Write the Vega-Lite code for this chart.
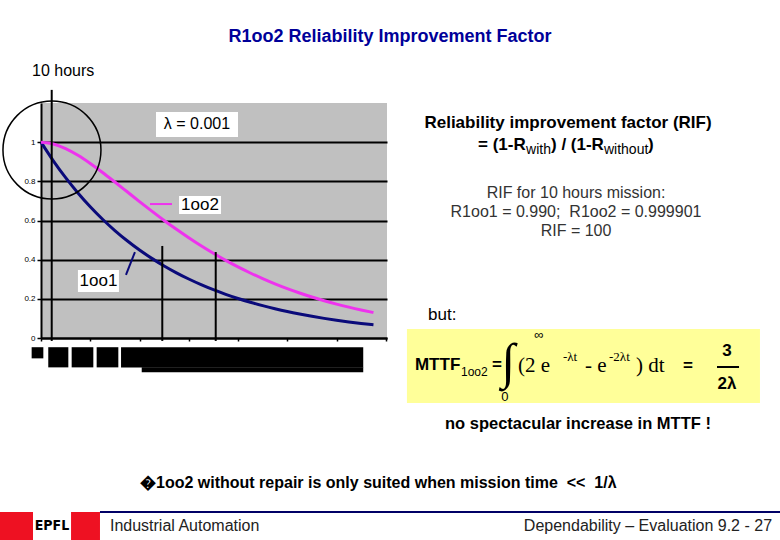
{
  "$schema": "https://vega.github.io/schema/vega-lite/v6.json",
  "width": 346,
  "height": 235,
  "autosize": "none",
  "padding": {"left": 41, "top": 103, "right": 393, "bottom": 202},
  "background": "white",
  "config": {"view": {"fill": "#c0c0c0", "stroke": null}, "font": "Liberation Sans"},
  "datasets": {
    "curves": [
      {"t": 0, "r1oo1": 1, "r1oo2": 1},
      {"t": 100, "r1oo1": 0.9048, "r1oo2": 0.9909},
      {"t": 200, "r1oo1": 0.8187, "r1oo2": 0.9671},
      {"t": 300, "r1oo1": 0.7408, "r1oo2": 0.9328},
      {"t": 400, "r1oo1": 0.6703, "r1oo2": 0.8913},
      {"t": 500, "r1oo1": 0.6065, "r1oo2": 0.8452},
      {"t": 600, "r1oo1": 0.5488, "r1oo2": 0.7964},
      {"t": 700, "r1oo1": 0.4966, "r1oo2": 0.7466},
      {"t": 800, "r1oo1": 0.4493, "r1oo2": 0.6967},
      {"t": 900, "r1oo1": 0.4066, "r1oo2": 0.6479},
      {"t": 1000, "r1oo1": 0.3679, "r1oo2": 0.6004},
      {"t": 1100, "r1oo1": 0.3329, "r1oo2": 0.555},
      {"t": 1200, "r1oo1": 0.3012, "r1oo2": 0.5117},
      {"t": 1300, "r1oo1": 0.2725, "r1oo2": 0.4707},
      {"t": 1400, "r1oo1": 0.2466, "r1oo2": 0.4324},
      {"t": 1500, "r1oo1": 0.2231, "r1oo2": 0.3964},
      {"t": 1600, "r1oo1": 0.2019, "r1oo2": 0.363},
      {"t": 1700, "r1oo1": 0.1827, "r1oo2": 0.332},
      {"t": 1800, "r1oo1": 0.1653, "r1oo2": 0.3033},
      {"t": 1900, "r1oo1": 0.1496, "r1oo2": 0.2768},
      {"t": 2000, "r1oo1": 0.1353, "r1oo2": 0.2523},
      {"t": 2100, "r1oo1": 0.1225, "r1oo2": 0.23},
      {"t": 2200, "r1oo1": 0.1108, "r1oo2": 0.2093},
      {"t": 2300, "r1oo1": 0.1003, "r1oo2": 0.1905},
      {"t": 2400, "r1oo1": 0.0907, "r1oo2": 0.1732},
      {"t": 2500, "r1oo1": 0.0821, "r1oo2": 0.1575},
      {"t": 2600, "r1oo1": 0.0743, "r1oo2": 0.1431},
      {"t": 2700, "r1oo1": 0.0672, "r1oo2": 0.1299}
    ],
    "markers": [
      {"t": 87, "top": 1.267, "bottom": -0.015},
      {"t": 985, "top": 0.47, "bottom": -0.015},
      {"t": 1419, "top": 0.439, "bottom": -0.015}
    ],
    "blocks": [
      {"from": -76, "to": 19, "low": -0.104, "high": -0.047},
      {"from": 59, "to": 222, "low": -0.15, "high": -0.047},
      {"from": 249, "to": 425, "low": -0.15, "high": -0.047},
      {"from": 452, "to": 628, "low": -0.15, "high": -0.047},
      {"from": 650, "to": 2617, "low": -0.15, "high": -0.047},
      {"from": 818, "to": 2617, "low": -0.175, "high": -0.149}
    ]
  },
  "layer": [
    {
      "data": {"name": "curves"},
      "mark": {"type": "line", "interpolate": "monotone", "strokeWidth": 3, "stroke": "#0a0a7a"},
      "encoding": {
        "x": {"field": "t", "type": "quantitative",
              "scale": {"domain": [0, 2810], "nice": false, "zero": false},
              "axis": {"values": [0,100,200,300,400,500,600,700,800,900,1000,1100,1200,1300,1400,1500,1600,1700,1800,1900,2000,2100,2200,2300,2400,2500,2600,2700,2800],
                       "labels": false, "title": null, "grid": false, "domainColor": "black", "domainWidth": 2,
                       "tickColor": "black", "tickSize": 3, "tickWidth": 1.5}},
        "y": {"field": "r1oo1", "type": "quantitative",
              "scale": {"domain": [0, 1.2], "nice": false, "zero": false},
              "axis": {"values": [0, 0.2, 0.4, 0.6, 0.8, 1], "format": "~g", "title": null, "grid": true,
                       "gridColor": "black", "gridWidth": 2, "gridOpacity": 1, "domainColor": "black", "domainWidth": 2,
                       "tickColor": "black", "tickSize": 4, "tickWidth": 1.5, "labelFontSize": 8, "labelColor": "black",
                       "labelPadding": 2, "labelFont": "Liberation Sans"}}
      }
    },
    {
      "data": {"name": "curves"},
      "mark": {"type": "line", "interpolate": "monotone", "strokeWidth": 3, "stroke": "#ee33ee"},
      "encoding": {
        "x": {"field": "t", "type": "quantitative"},
        "y": {"field": "r1oo2", "type": "quantitative"}
      }
    },
    {
      "data": {"name": "markers"},
      "mark": {"type": "rule", "stroke": "black", "strokeWidth": 2},
      "encoding": {
        "x": {"field": "t", "type": "quantitative"},
        "y": {"field": "top", "type": "quantitative"},
        "y2": {"field": "bottom"}
      }
    },
    {
      "data": {"values": [{"label": "circle"}]},
      "mark": {"type": "point", "shape": "circle", "size": 9604, "filled": false, "stroke": "black", "strokeWidth": 1.5, "opacity": 1},
      "encoding": {"x": {"datum": 89, "type": "quantitative"}, "y": {"datum": 0.96, "type": "quantitative"}}
    },
    {
      "data": {"values": [{"label": "λ box"}]},
      "mark": {"type": "rect", "fill": "white"},
      "encoding": {"x": {"datum": 934, "type": "quantitative"}, "x2": {"datum": 1600}, "y": {"datum": 1.154, "type": "quantitative"}, "y2": {"datum": 1.026}}
    },
    {
      "data": {"values": [{"label": "λ = 0.001"}]},
      "mark": {"type": "text", "align": "center", "baseline": "middle", "fontSize": 16, "fill": "black"},
      "encoding": {"x": {"datum": 1267, "type": "quantitative"}, "y": {"datum": 1.093, "type": "quantitative"}, "text": {"field": "label"}}
    },
    {
      "data": {"values": [{"label": "1oo2 box"}]},
      "mark": {"type": "rect", "fill": "white"},
      "encoding": {"x": {"datum": 1121, "type": "quantitative"}, "x2": {"datum": 1462}, "y": {"datum": 0.725, "type": "quantitative"}, "y2": {"datum": 0.633}}
    },
    {
      "data": {"values": [{"label": "1oo2"}]},
      "mark": {"type": "text", "align": "center", "baseline": "middle", "fontSize": 17, "fill": "black"},
      "encoding": {"x": {"datum": 1291, "type": "quantitative"}, "y": {"datum": 0.679, "type": "quantitative"}, "text": {"field": "label"}}
    },
    {
      "data": {"values": [{"label": "1oo2 key"}]},
      "mark": {"type": "rule", "stroke": "#ee33ee", "strokeWidth": 2},
      "encoding": {"x": {"datum": 885, "type": "quantitative"}, "x2": {"datum": 1064}, "y": {"datum": 0.684, "type": "quantitative"}}
    },
    {
      "data": {"values": [{"label": "1oo1 box"}]},
      "mark": {"type": "rect", "fill": "white"},
      "encoding": {"x": {"datum": 300, "type": "quantitative"}, "x2": {"datum": 633}, "y": {"datum": 0.347, "type": "quantitative"}, "y2": {"datum": 0.235}}
    },
    {
      "data": {"values": [{"label": "1oo1"}]},
      "mark": {"type": "text", "align": "center", "baseline": "middle", "fontSize": 17, "fill": "black"},
      "encoding": {"x": {"datum": 467, "type": "quantitative"}, "y": {"datum": 0.291, "type": "quantitative"}, "text": {"field": "label"}}
    },
    {
      "data": {"values": [{"label": "1oo1 pointer"}]},
      "mark": {"type": "rule", "stroke": "#0a0a7a", "strokeWidth": 2},
      "encoding": {"x": {"datum": 690, "type": "quantitative"}, "x2": {"datum": 763}, "y": {"datum": 0.322, "type": "quantitative"}, "y2": {"datum": 0.439}}
    },
    {
      "data": {"name": "blocks"},
      "mark": {"type": "rect", "fill": "black"},
      "encoding": {
        "x": {"field": "from", "type": "quantitative"}, "x2": {"field": "to"},
        "y": {"field": "high", "type": "quantitative"}, "y2": {"field": "low"}
      }
    },
    {
      "data": {"values": [{"label": "R1oo2 Reliability Improvement Factor"}]},
      "mark": {"type": "text", "align": "center", "baseline": "middle", "fontSize": 18, "fontWeight": "bold", "fill": "#000099"},
      "encoding": {"x": {"datum": 2834, "type": "quantitative"}, "y": {"datum": 1.537, "type": "quantitative"}, "text": {"field": "label"}}
    },
    {
      "data": {"values": [{"label": "10 hours"}]},
      "mark": {"type": "text", "align": "left", "baseline": "middle", "fontSize": 16, "fill": "black"},
      "encoding": {"x": {"datum": -73, "type": "quantitative"}, "y": {"datum": 1.363, "type": "quantitative"}, "text": {"field": "label"}}
    },
    {
      "data": {"values": [{"label": "Reliability improvement factor (RIF)"}]},
      "mark": {"type": "text", "align": "center", "baseline": "middle", "fontSize": 17, "fontWeight": "bold", "fill": "black"},
      "encoding": {"x": {"datum": 4280, "type": "quantitative"}, "y": {"datum": 1.098, "type": "quantitative"}, "text": {"field": "label"}}
    },
    {
      "data": {"values": [{"label": "= (1-R", "px": 3549}, {"label": ") / (1-R", "px": 4142}, {"label": ")", "px": 4930}]},
      "mark": {"type": "text", "align": "left", "baseline": "middle", "fontSize": 17, "fontWeight": "bold", "fill": "black"},
      "encoding": {"x": {"field": "px", "type": "quantitative"}, "y": {"datum": 0.986, "type": "quantitative"}, "text": {"field": "label"}}
    },
    {
      "data": {"values": [{"label": "with", "px": 3939}, {"label": "without", "px": 4572}]},
      "mark": {"type": "text", "align": "left", "baseline": "middle", "fontSize": 14, "fill": "black"},
      "encoding": {"x": {"field": "px", "type": "quantitative"}, "y": {"datum": 0.958, "type": "quantitative"}, "text": {"field": "label"}}
    },
    {
      "data": {"values": [{"label": "RIF for 10 hours mission:", "row": 0.74}, {"label": "R1oo1 = 0.990;\u00a0 R1oo2 = 0.999901", "row": 0.643}, {"label": "RIF = 100", "row": 0.546}]},
      "mark": {"type": "text", "align": "center", "baseline": "middle", "fontSize": 16, "fill": "#333333"},
      "encoding": {"x": {"datum": 4345, "type": "quantitative"}, "y": {"field": "row", "type": "quantitative"}, "text": {"field": "label"}}
    },
    {
      "data": {"values": [{"label": "but:"}]},
      "mark": {"type": "text", "align": "left", "baseline": "middle", "fontSize": 17, "fill": "black"},
      "encoding": {"x": {"datum": 3143, "type": "quantitative"}, "y": {"datum": 0.117, "type": "quantitative"}, "text": {"field": "label"}}
    },
    {
      "data": {"values": [{"label": "formula box"}]},
      "mark": {"type": "rect", "fill": "#ffff99"},
      "encoding": {"x": {"datum": 2972, "type": "quantitative"}, "x2": {"datum": 5839}, "y": {"datum": 0.046, "type": "quantitative"}, "y2": {"datum": -0.332}}
    },
    {
      "data": {"values": [{"label": "MTTF", "px": 3037}, {"label": "=", "px": 3663}]},
      "mark": {"type": "text", "align": "left", "baseline": "middle", "fontSize": 17, "fontWeight": "bold", "fill": "black"},
      "encoding": {"x": {"field": "px", "type": "quantitative"}, "y": {"datum": -0.14, "type": "quantitative"}, "text": {"field": "label"}}
    },
    {
      "data": {"values": [{"label": "1oo2"}]},
      "mark": {"type": "text", "align": "left", "baseline": "middle", "fontSize": 12, "fill": "black"},
      "encoding": {"x": {"datum": 3411, "type": "quantitative"}, "y": {"datum": -0.174, "type": "quantitative"}, "text": {"field": "label"}}
    },
    {
      "data": {"values": [{"label": "∫"}]},
      "mark": {"type": "text", "align": "center", "baseline": "middle", "fontSize": 50, "font": "Liberation Serif", "fill": "black"},
      "encoding": {"x": {"datum": 3793, "type": "quantitative"}, "y": {"datum": -0.128, "type": "quantitative"}, "text": {"field": "label"}}
    },
    {
      "data": {"values": [{"label": "∞", "px": 4044, "py": 0.015}, {"label": "0", "px": 3768, "py": -0.301}]},
      "mark": {"type": "text", "align": "center", "baseline": "middle", "fontSize": 13, "fill": "black"},
      "encoding": {"x": {"field": "px", "type": "quantitative"}, "y": {"field": "py", "type": "quantitative"}, "text": {"field": "label"}}
    },
    {
      "data": {"values": [{"label": "(2 e", "px": 3874}, {"label": "- e", "px": 4418}, {"label": ") dt", "px": 4832}]},
      "mark": {"type": "text", "align": "left", "baseline": "middle", "fontSize": 21, "font": "Liberation Serif", "fill": "black"},
      "encoding": {"x": {"field": "px", "type": "quantitative"}, "y": {"datum": -0.143, "type": "quantitative"}, "text": {"field": "label"}}
    },
    {
      "data": {"values": [{"label": "-λt", "px": 4239}, {"label": "-2λt", "px": 4613}]},
      "mark": {"type": "text", "align": "left", "baseline": "middle", "fontSize": 13, "font": "Liberation Serif", "fill": "black"},
      "encoding": {"x": {"field": "px", "type": "quantitative"}, "y": {"datum": -0.097, "type": "quantitative"}, "text": {"field": "label"}}
    },
    {
      "data": {"values": [{"label": "=", "px": 5255, "py": -0.143}, {"label": "3", "px": 5571, "py": -0.066}, {"label": "2λ", "px": 5571, "py": -0.235}]},
      "mark": {"type": "text", "align": "center", "baseline": "middle", "fontSize": 17, "fontWeight": "bold", "fill": "black"},
      "encoding": {"x": {"field": "px", "type": "quantitative"}, "y": {"field": "py", "type": "quantitative"}, "text": {"field": "label"}}
    },
    {
      "data": {"values": [{"label": "fraction bar"}]},
      "mark": {"type": "rule", "stroke": "black", "strokeWidth": 2},
      "encoding": {"x": {"datum": 5490, "type": "quantitative"}, "x2": {"datum": 5669}, "y": {"datum": -0.148, "type": "quantitative"}}
    },
    {
      "data": {"values": [{"label": "no spectacular increase in MTTF !"}]},
      "mark": {"type": "text", "align": "center", "baseline": "middle", "fontSize": 16.5, "fontWeight": "bold", "fill": "black"},
      "encoding": {"x": {"datum": 4361, "type": "quantitative"}, "y": {"datum": -0.439, "type": "quantitative"}, "text": {"field": "label"}}
    },
    {
      "data": {"values": [{"label": "\ufffd1oo2 without repair is only suited when mission time\u00a0 <<\u00a0 1/λ"}]},
      "mark": {"type": "text", "align": "left", "baseline": "middle", "fontSize": 16, "fontWeight": "bold", "fill": "black"},
      "encoding": {"x": {"datum": 804, "type": "quantitative"}, "y": {"datum": -0.74, "type": "quantitative"}, "text": {"field": "label"}}
    },
    {
      "data": {"values": [{"label": "footer line"}]},
      "mark": {"type": "rule", "stroke": "#000066", "strokeWidth": 2},
      "encoding": {"x": {"datum": 479, "type": "quantitative"}, "x2": {"datum": 6002}, "y": {"datum": -0.889, "type": "quantitative"}}
    },
    {
      "data": {"values": [{"label": "logo red"}]},
      "mark": {"type": "rect", "fill": "#ee1122"},
      "encoding": {"x": {"datum": -333, "type": "quantitative"}, "x2": {"datum": 479}, "y": {"datum": -0.889, "type": "quantitative"}, "y2": {"datum": -1.04}}
    },
    {
      "data": {"values": [{"label": "logo white"}]},
      "mark": {"type": "rect", "fill": "white"},
      "encoding": {"x": {"datum": -65, "type": "quantitative"}, "x2": {"datum": 244}, "y": {"datum": -0.889, "type": "quantitative"}, "y2": {"datum": -1.04}}
    },
    {
      "data": {"values": [{"label": "EPFL"}]},
      "mark": {"type": "text", "align": "center", "baseline": "middle", "fontSize": 14, "fontWeight": "bold", "font": "DejaVu Sans Condensed", "fill": "black"},
      "encoding": {"x": {"datum": 89, "type": "quantitative"}, "y": {"datum": -0.962, "type": "quantitative"}, "text": {"field": "label"}}
    },
    {
      "data": {"values": [{"label": "Industrial Automation"}]},
      "mark": {"type": "text", "align": "left", "baseline": "middle", "fontSize": 16, "fill": "#222222"},
      "encoding": {"x": {"datum": 560, "type": "quantitative"}, "y": {"datum": -0.96, "type": "quantitative"}, "text": {"field": "label"}}
    },
    {
      "data": {"values": [{"label": "Dependability – Evaluation 9.2 - 27"}]},
      "mark": {"type": "text", "align": "right", "baseline": "middle", "fontSize": 16, "fill": "#222222"},
      "encoding": {"x": {"datum": 5937, "type": "quantitative"}, "y": {"datum": -0.96, "type": "quantitative"}, "text": {"field": "label"}}
    }
  ]
}
